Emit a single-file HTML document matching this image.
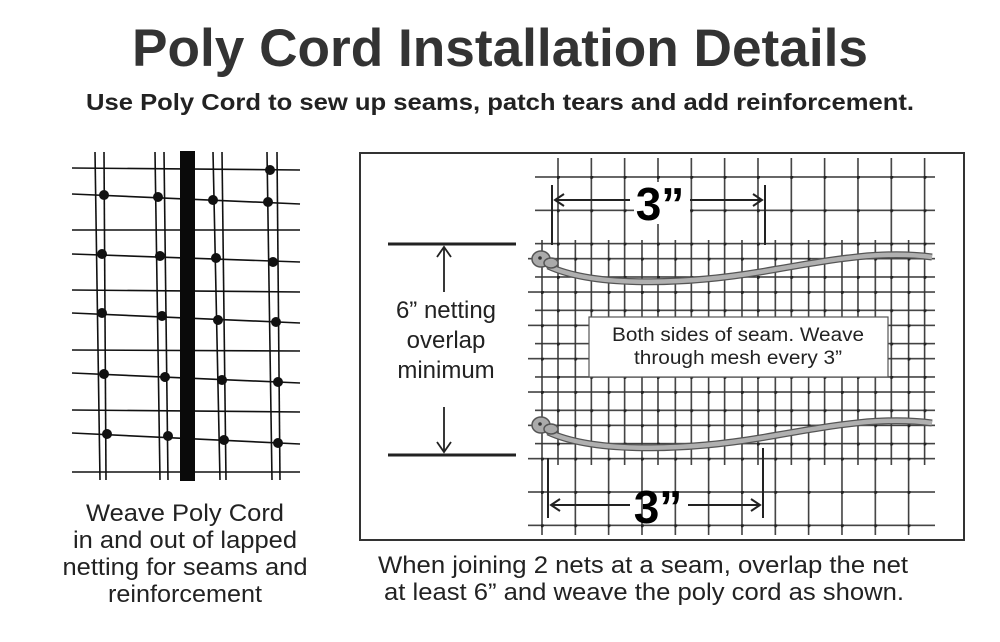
<!DOCTYPE html>
<html><head><meta charset="utf-8"><style>
html,body{margin:0;padding:0;background:#fff;}
svg{display:block;}
text{font-family:"Liberation Sans",sans-serif;fill:#222;}
</style></head><body>
<svg width="1000" height="642" viewBox="0 0 1000 642" xmlns="http://www.w3.org/2000/svg">
<defs>
<pattern id="netA" patternUnits="userSpaceOnUse" x="557" y="176" width="33.33" height="33.33">
<line x1="1" y1="0" x2="1" y2="33.33" stroke="#333" stroke-width="1.5"/>
<line x1="0" y1="1" x2="33.33" y2="1" stroke="#333" stroke-width="1.5"/>
<circle cx="1" cy="1" r="2" fill="#222"/>
</pattern>
<pattern id="netB" patternUnits="userSpaceOnUse" x="541" y="257.7" width="33.33" height="33.33">
<line x1="1" y1="0" x2="1" y2="33.33" stroke="#333" stroke-width="1.5"/>
<line x1="0" y1="1" x2="33.33" y2="1" stroke="#333" stroke-width="1.5"/>
<circle cx="1" cy="1" r="2" fill="#222"/>
</pattern>
</defs>
<text x="500" y="66" font-size="53" font-weight="bold" text-anchor="middle" textLength="736" lengthAdjust="spacingAndGlyphs" style="fill:#333">Poly Cord Installation Details</text>
<text x="500" y="110" font-size="23" font-weight="bold" text-anchor="middle" textLength="828" lengthAdjust="spacingAndGlyphs">Use Poly Cord to sew up seams, patch tears and add reinforcement.</text>

<!-- left net -->
<g stroke="#111" stroke-width="1.6">
<line x1="95" y1="152" x2="100" y2="480"/><line x1="104" y1="152" x2="106" y2="480"/>
<line x1="155" y1="152" x2="160" y2="480"/><line x1="164" y1="152" x2="168" y2="480"/>
<line x1="213" y1="152" x2="220" y2="480"/><line x1="222" y1="152" x2="226" y2="480"/>
<line x1="267" y1="152" x2="272" y2="480"/><line x1="277" y1="152" x2="280" y2="480"/>
<line x1="72" y1="168" x2="300" y2="170"/>
<line x1="72" y1="194" x2="300" y2="204"/>
<line x1="72" y1="230" x2="300" y2="230"/>
<line x1="72" y1="254" x2="300" y2="262"/>
<line x1="72" y1="290" x2="300" y2="292"/>
<line x1="72" y1="313" x2="300" y2="323"/>
<line x1="72" y1="350" x2="300" y2="351"/>
<line x1="72" y1="373" x2="300" y2="383"/>
<line x1="72" y1="410" x2="300" y2="412"/>
<line x1="72" y1="433" x2="300" y2="444"/>
<line x1="72" y1="472" x2="300" y2="472"/>
</g>
<g fill="#111">
<circle cx="104" cy="195" r="5"/><circle cx="102" cy="254" r="5"/><circle cx="102" cy="313" r="5"/><circle cx="104" cy="374" r="5"/><circle cx="107" cy="434" r="5"/>
<circle cx="158" cy="197" r="5"/><circle cx="160" cy="256" r="5"/><circle cx="162" cy="316" r="5"/><circle cx="165" cy="377" r="5"/><circle cx="168" cy="436" r="5"/>
<circle cx="213" cy="200" r="5"/><circle cx="216" cy="258" r="5"/><circle cx="218" cy="320" r="5"/><circle cx="222" cy="380" r="5"/><circle cx="224" cy="440" r="5"/>
<circle cx="270" cy="170" r="5"/><circle cx="268" cy="202" r="5"/><circle cx="273" cy="262" r="5"/><circle cx="276" cy="322" r="5"/><circle cx="278" cy="382" r="5"/><circle cx="278" cy="443" r="5"/>
</g>
<rect x="180" y="151" width="15" height="330" fill="#0a0a0a"/>

<text x="185" y="521" font-size="24" text-anchor="middle" textLength="198" lengthAdjust="spacingAndGlyphs">Weave Poly Cord</text>
<text x="185" y="548" font-size="24" text-anchor="middle" textLength="224" lengthAdjust="spacingAndGlyphs">in and out of lapped</text>
<text x="185" y="575" font-size="24" text-anchor="middle" textLength="245" lengthAdjust="spacingAndGlyphs">netting for seams and</text>
<text x="185" y="602" font-size="24" text-anchor="middle" textLength="154" lengthAdjust="spacingAndGlyphs">reinforcement</text>

<!-- right box -->
<rect x="360" y="153" width="604" height="387" fill="#fff" stroke="#333" stroke-width="2"/>
<rect x="535" y="158" width="400" height="307" fill="url(#netA)"/>
<rect x="528" y="240" width="407" height="295" fill="url(#netB)"/>

<!-- 6" label -->
<g stroke="#222" stroke-width="3"><line x1="388" y1="244" x2="516" y2="244"/><line x1="388" y1="455" x2="516" y2="455"/></g>
<g stroke="#222" stroke-width="1.8" fill="none">
<line x1="444" y1="247" x2="444" y2="292"/><polyline points="437,257 444,247 451,257"/>
<line x1="444" y1="407" x2="444" y2="452"/><polyline points="437,442 444,452 451,442"/>
</g>
<text x="446" y="318" font-size="24" text-anchor="middle">6” netting</text>
<text x="446" y="348" font-size="24" text-anchor="middle">overlap</text>
<text x="446" y="378" font-size="24" text-anchor="middle">minimum</text>

<!-- cords -->
<g fill="none" stroke-linecap="butt">
<path d="M548,266 C600,290 700,282 760,272 C830,260 880,250 932,257" stroke="#555" stroke-width="7"/>
<path d="M548,266 C600,290 700,282 760,272 C830,260 880,250 932,257" stroke="#b0b0b0" stroke-width="4.5"/>
<path d="M548,432 C600,456 700,448 760,438 C830,426 880,416 932,423" stroke="#555" stroke-width="7"/>
<path d="M548,432 C600,456 700,448 760,438 C830,426 880,416 932,423" stroke="#b0b0b0" stroke-width="4.5"/>
</g>
<g fill="#aaa" stroke="#555" stroke-width="1.5">
<ellipse cx="541" cy="259" rx="9" ry="8"/><ellipse cx="551" cy="263" rx="7" ry="5"/>
<ellipse cx="541" cy="425" rx="9" ry="8"/><ellipse cx="551" cy="429" rx="7" ry="5"/>
</g>
<circle cx="540" cy="258" r="1.8" fill="#333"/><circle cx="540" cy="424" r="1.8" fill="#333"/>

<!-- text box -->
<rect x="589" y="317" width="299" height="60" fill="#fff" stroke="#555" stroke-width="1.2"/>
<text x="738" y="341" font-size="19" text-anchor="middle" textLength="252" lengthAdjust="spacingAndGlyphs">Both sides of seam. Weave</text>
<text x="738" y="364" font-size="19" text-anchor="middle" textLength="208" lengthAdjust="spacingAndGlyphs">through mesh every 3”</text>

<!-- 3" dims -->
<g stroke="#222" stroke-width="2" fill="none">
<line x1="552" y1="185" x2="552" y2="245"/><line x1="765" y1="185" x2="765" y2="245"/>
<line x1="555" y1="200" x2="630" y2="200"/><line x1="690" y1="200" x2="762" y2="200"/>
<polyline points="564,194 555,200 564,206"/><polyline points="753,194 762,200 753,206"/>
<line x1="548" y1="458" x2="548" y2="518"/><line x1="763" y1="448" x2="763" y2="518"/>
<line x1="551" y1="505" x2="630" y2="505"/><line x1="688" y1="505" x2="760" y2="505"/>
<polyline points="560,499 551,505 560,511"/><polyline points="751,499 760,505 751,511"/>
</g>
<rect x="634" y="182" width="56" height="42" fill="#fff"/>
<text x="660" y="220" font-size="46" font-weight="bold" text-anchor="middle" style="fill:#000">3”</text>
<text x="658" y="523" font-size="46" font-weight="bold" text-anchor="middle" style="fill:#000">3”</text>

<text x="643" y="573" font-size="24" text-anchor="middle" textLength="530" lengthAdjust="spacingAndGlyphs">When joining 2 nets at a seam, overlap the net</text>
<text x="644" y="600" font-size="24" text-anchor="middle" textLength="520" lengthAdjust="spacingAndGlyphs">at least 6” and weave the poly cord as shown.</text>
</svg>
</body></html>
